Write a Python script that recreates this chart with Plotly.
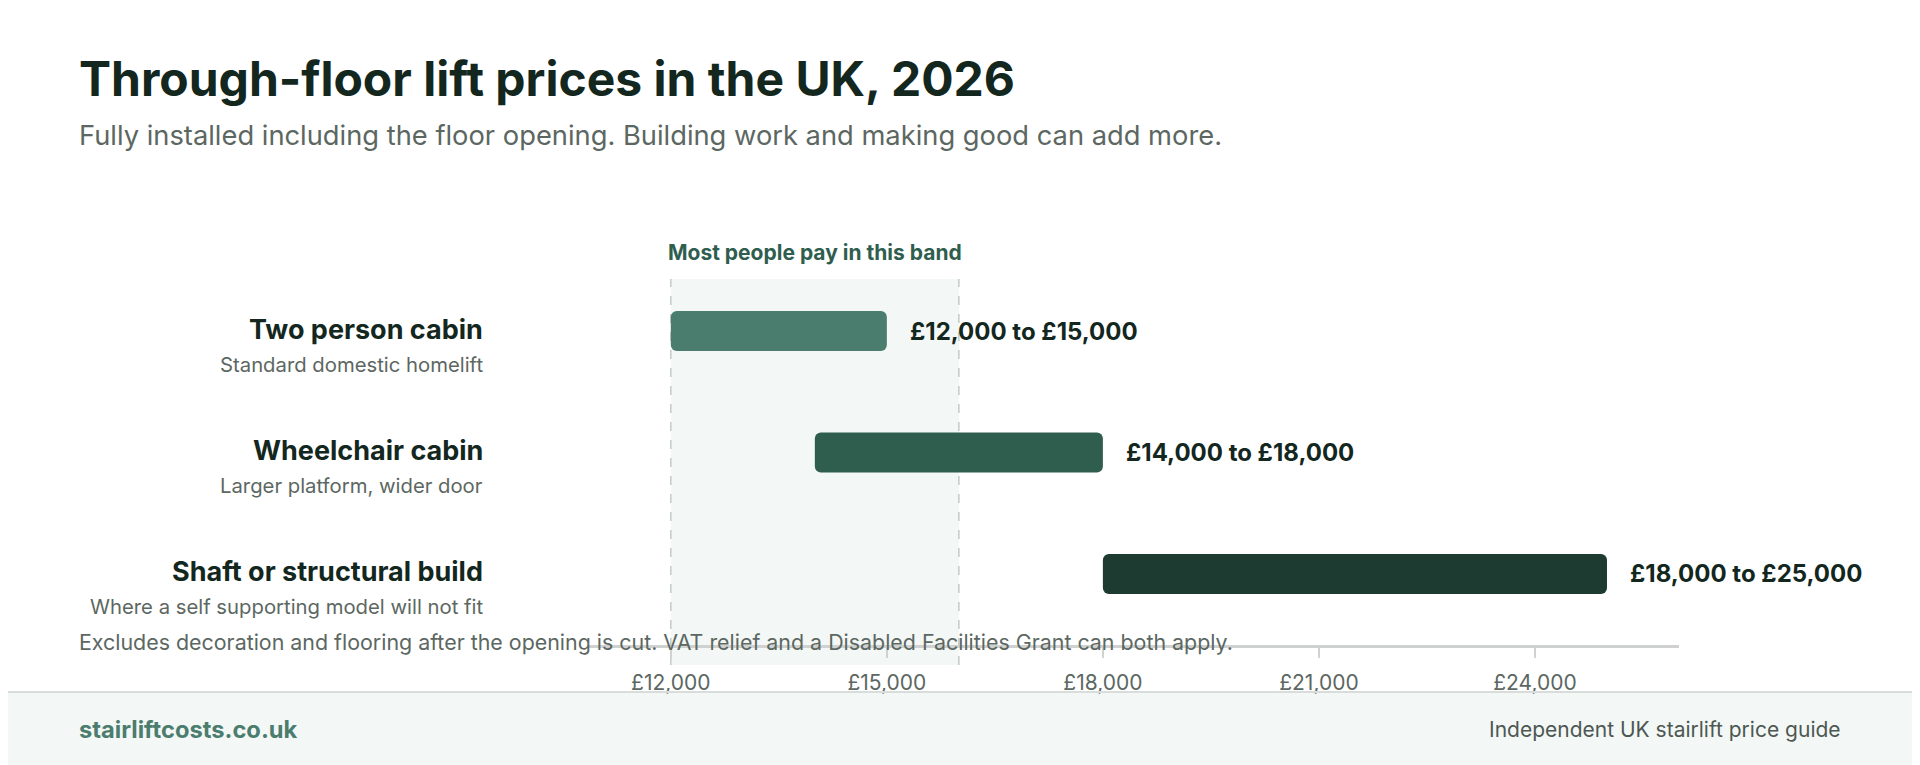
import plotly.graph_objects as go

# price bands (GBP)
categories = ["Two person cabin", "Wheelchair cabin", "Shaft or structural build"]
subtitles = ["Standard domestic homelift", "Larger platform, wider door", "Where a self supporting model will not fit"]
price_low = [12000, 14000, 18000]
price_high = [15000, 18000, 25000]
bar_colors = ["#4b7d6f", "#2f5e4f", "#1d3b30"]

band_low = 12000
band_high = 16000

tick_vals = [12000, 15000, 18000, 21000, 24000]
tick_text = ["£12,000", "£15,000", "£18,000", "£21,000", "£24,000"]

FONT = "Inter"
DARK = "#13271e"
GREY = "#5c6762"

# page puts the figure 8px in from the window corner, so work in window pixels
W, H = 1920, 765
OFF = 8
PL, PR, PT, PB = 588, 1679, 260, 645   # plot box in window pixels
pw, ph = PR - PL, PB - PT


def px(x):
    return (x - PL) / pw


def py(y):
    return (PB - y) / ph


fig = go.Figure()

fig.add_trace(go.Bar(
    y=categories, base=price_low, x=[hi - lo for lo, hi in zip(price_low, price_high)],
    orientation="h", width=0.33,
    marker=dict(color=bar_colors, line_width=0),
    hoverinfo="skip", showlegend=False,
))

# "most people pay" band
fig.add_shape(type="rect", xref="x", yref="paper", x0=band_low, x1=band_high,
              y0=py(665), y1=py(279), fillcolor="#f3f7f5", line_width=0, layer="below")
for xv in (band_low, band_high):
    fig.add_shape(type="line", xref="x", yref="paper", x0=xv, x1=xv, y0=py(665), y1=py(279),
                  line=dict(color="#c3cac7", width=1.5, dash="dash"), layer="below")
fig.add_annotation(xref="x", yref="paper", x=(band_low + band_high) / 2, y=py(252), yanchor="middle",
                   text="<b>Most people pay in this band</b>", showarrow=False,
                   font=dict(family=FONT, size=21, color="#2f5e4f"))

# footer strip
fig.add_shape(type="rect", xref="paper", yref="paper", x0=px(OFF), x1=px(W + OFF), y0=py(H + OFF), y1=py(692),
              fillcolor="#f3f7f5", line_width=0, layer="below")
fig.add_shape(type="line", xref="paper", yref="paper", x0=px(OFF), x1=px(W + OFF), y0=py(692), y1=py(692),
              line=dict(color="#d8dddb", width=2))

for cat, sub, lo, hi in zip(categories, subtitles, price_low, price_high):
    fig.add_annotation(xref="paper", yref="y", x=px(485), y=cat, xanchor="right", yanchor="middle", yshift=2,
                       text=f"<b>{cat}</b>", showarrow=False,
                       font=dict(family=FONT, size=27, color=DARK))
    fig.add_annotation(xref="paper", yref="y", x=px(485), y=cat, xanchor="right", yanchor="middle", yshift=-33,
                       text=sub, showarrow=False,
                       font=dict(family=FONT, size=20.3, color=GREY))
    fig.add_annotation(xref="x", yref="y", x=hi, y=cat, xanchor="left", yanchor="middle", xshift=21,
                       text=f"<b>£{lo:,} to £{hi:,}</b>", showarrow=False,
                       font=dict(family=FONT, size=24, color=DARK))

fig.add_annotation(xref="paper", yref="paper", x=px(77), y=py(78), xanchor="left", yanchor="middle",
                   text="<b>Through-floor lift prices in the UK, 2026</b>", showarrow=False,
                   font=dict(family=FONT, size=48, color=DARK))
fig.add_annotation(xref="paper", yref="paper", x=px(77), y=py(135), xanchor="left", yanchor="middle",
                   text="Fully installed including the floor opening. Building work and making good can add more.",
                   showarrow=False, font=dict(family=FONT, size=27.3, color=GREY))
fig.add_annotation(xref="paper", yref="paper", x=px(77), y=py(642), xanchor="left", yanchor="middle",
                   text="Excludes decoration and flooring after the opening is cut. VAT relief and a Disabled Facilities Grant can both apply.",
                   showarrow=False, font=dict(family=FONT, size=21.4, color=GREY))
fig.add_annotation(xref="paper", yref="paper", x=px(77), y=py(729), xanchor="left", yanchor="middle",
                   text="<b>stairliftcosts.co.uk</b>", showarrow=False,
                   font=dict(family=FONT, size=23.7, color="#4b7d6f"))
fig.add_annotation(xref="paper", yref="paper", x=px(1843), y=py(729), xanchor="right", yanchor="middle",
                   text="Independent UK stairlift price guide", showarrow=False,
                   font=dict(family=FONT, size=21, color="#4d5753"))

fig.update_layout(
    width=W, height=H,
    margin=dict(l=PL - OFF, r=W - (PR - OFF), t=PT - OFF, b=H - (PB - OFF)),
    paper_bgcolor="white", plot_bgcolor="rgba(0,0,0,0)",
    barmode="overlay", barcornerradius=6,
    font=dict(family=FONT),
)
fig.update_xaxes(range=[10850, 26000], tickvals=tick_vals, ticktext=tick_text,
                 showgrid=False, zeroline=False, showline=True, linecolor="#d0d2d1", linewidth=2.5,
                 ticks="outside", ticklen=10, tickwidth=2, tickcolor="#d0d2d1",
                 tickfont=dict(family=FONT, size=21, color=GREY), ticklabelstandoff=7)
fig.update_yaxes(type="category", range=[2.585, -0.585], showticklabels=False,
                 showgrid=False, zeroline=False, showline=False)

fig.write_html("out.html")
